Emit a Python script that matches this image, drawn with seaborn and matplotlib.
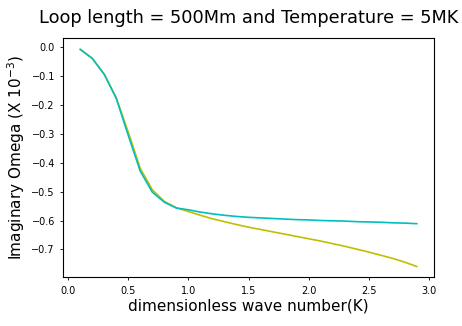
import numpy as np
import pandas as pd
import matplotlib
matplotlib.use("Agg")
import matplotlib.pyplot as plt
import seaborn as sns

# wave number K (dimensionless)
k = [0.1, 0.2, 0.3, 0.4, 0.5, 0.6, 0.7, 0.8, 0.9, 1.0,
     1.1, 1.2, 1.3, 1.4, 1.5, 1.6, 1.7, 1.8, 1.9, 2.0,
     2.1, 2.2, 2.3, 2.4, 2.5, 2.6, 2.7, 2.8, 2.9]

# imaginary omega (x 10^-3), first case (yellow)
omega_y = [-0.009, -0.040, -0.095, -0.176, -0.295, -0.420, -0.494, -0.534, -0.556, -0.569,
           -0.582, -0.594, -0.604, -0.614, -0.623, -0.631, -0.639, -0.647, -0.655, -0.663,
           -0.671, -0.680, -0.689, -0.699, -0.709, -0.720, -0.731, -0.744, -0.759]

# imaginary omega (x 10^-3), second case (cyan)
omega_c = [-0.009, -0.040, -0.095, -0.178, -0.306, -0.430, -0.502, -0.537, -0.557, -0.563,
           -0.571, -0.577, -0.582, -0.586, -0.589, -0.591, -0.593, -0.595, -0.597, -0.598,
           -0.600, -0.601, -0.602, -0.604, -0.605, -0.606, -0.608, -0.609, -0.611]

df = pd.DataFrame({
    "k": k + k,
    "omega": omega_y + omega_c,
    "case": ["y"] * len(k) + ["c"] * len(k),
})

sns.set_style("white")
plt.rcParams["font.family"] = ["DejaVu Sans"]
plt.rcParams["text.color"] = "black"
plt.rcParams["axes.labelcolor"] = "black"

fig = plt.figure(figsize=(4.62, 3.26), dpi=100)
ax = fig.add_axes([0.137, 0.149, 0.802, 0.733])

sns.lineplot(data=df, x="k", y="omega", hue="case",
             palette={"y": "#bfbf00", "c": "#00bfbf"},
             linewidth=1.2, legend=False, ax=ax)

for s in ax.spines.values():
    s.set_color("black")
    s.set_linewidth(0.8)
ax.tick_params(axis="both", direction="out", length=2.5, width=0.6,
               labelsize=7, bottom=True, left=True, color="black",
               labelcolor="black")

ax.set_xticks([0.0, 0.5, 1.0, 1.5, 2.0, 2.5, 3.0])
ax.set_yticks([0.0, -0.1, -0.2, -0.3, -0.4, -0.5, -0.6, -0.7])
ax.margins(x=0.05, y=0.05)

ax.set_xlabel("dimensionless wave number(K)", fontsize=11, labelpad=2)
ax.set_ylabel(r"Imaginary Omega (X $10^{-3}$)", fontsize=11, labelpad=3)
ax.set_title("Loop length = 500Mm and Temperature = 5MK", fontsize=12.8, pad=11)

fig.savefig("out.png", dpi=100)
